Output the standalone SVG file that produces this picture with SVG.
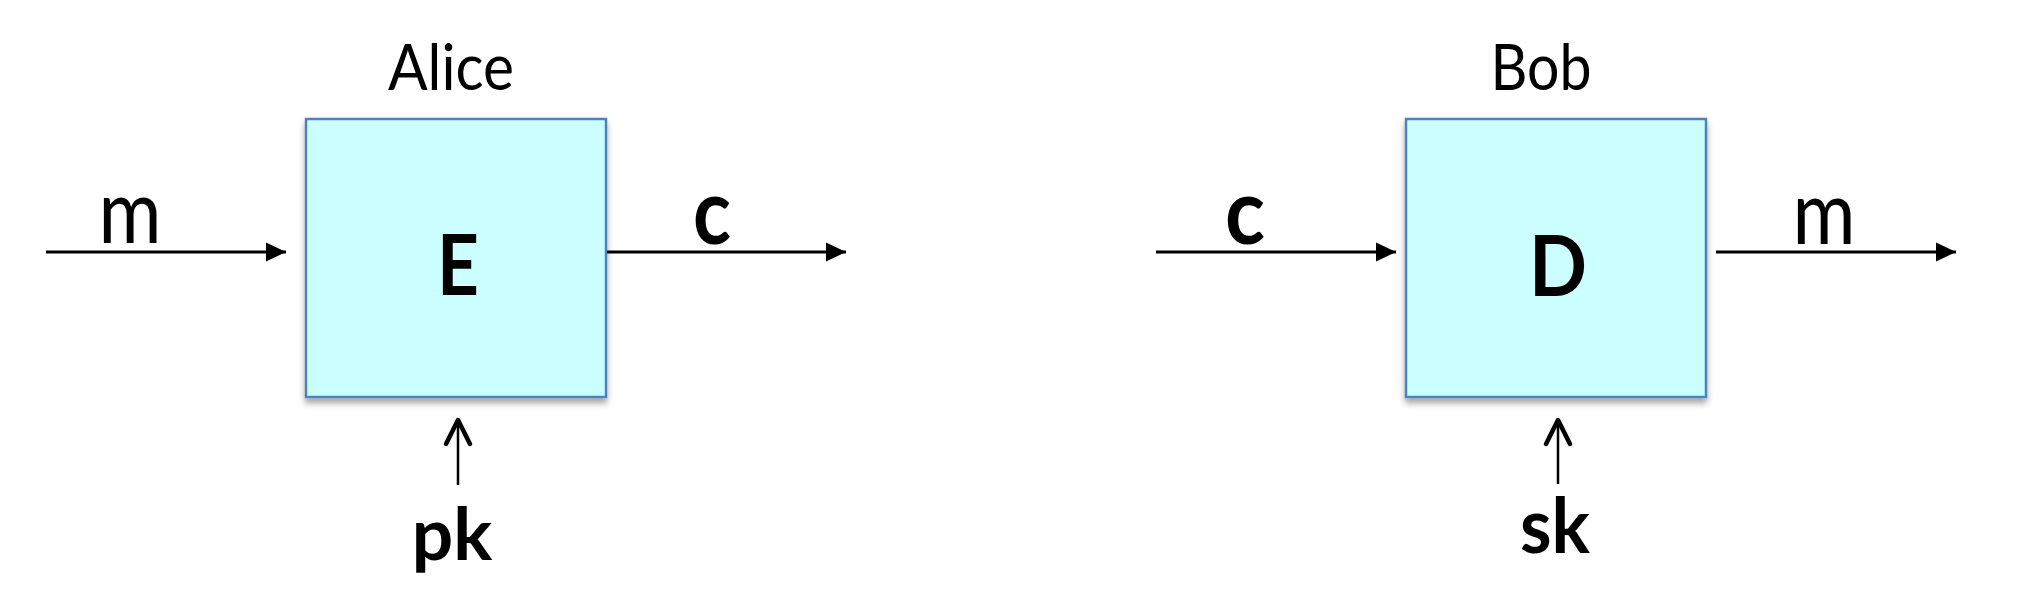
<svg xmlns="http://www.w3.org/2000/svg" width="2036" height="610" viewBox="0 0 2036 610">
<style>
.box{fill:#CCFFFF;stroke:#4F81BD;stroke-width:2.5}
.t{font-family:Lato,"Open Sans",sans-serif;fill:#000}
.b{font-weight:bold}
.h{stroke:#000;stroke-width:3;fill:none}
.v{stroke:#000;stroke-width:2.5;fill:none}
.vh{stroke:#000;stroke-width:4.5;fill:none;stroke-linecap:round;stroke-linejoin:round}
</style>
<defs>
<filter id="sh" x="-10%" y="-10%" width="120%" height="125%">
<feDropShadow dx="0" dy="5" stdDeviation="3" flood-color="#000" flood-opacity="0.35"/>
</filter>
<marker id="ah" markerUnits="userSpaceOnUse" markerWidth="22" markerHeight="22" refX="20" refY="10" orient="auto">
<path d="M0,0.5 L20,10 L0,19.5 Z" fill="#000"/>
</marker>
</defs>
<rect width="2036" height="610" fill="#fff"/>
<g id="alice">
<rect class="box" x="306" y="119" width="300" height="278" filter="url(#sh)"/>
<text class="t" x="451" y="90" font-size="63" text-anchor="middle" textLength="126" lengthAdjust="spacingAndGlyphs">Alice</text>
<text class="t b" x="458" y="295" font-size="84" text-anchor="middle" textLength="42" lengthAdjust="spacingAndGlyphs">E</text>
</g>
<g id="bob">
<rect class="box" x="1406" y="119" width="300" height="278" filter="url(#sh)"/>
<text class="t" x="1541" y="90" font-size="63" text-anchor="middle" textLength="101" lengthAdjust="spacingAndGlyphs">Bob</text>
<text class="t b" x="1558" y="296" font-size="84" text-anchor="middle" textLength="58" lengthAdjust="spacingAndGlyphs">D</text>
</g>
<g id="labels">
<text class="t" x="130" y="243" font-size="90" text-anchor="middle" textLength="63" lengthAdjust="spacingAndGlyphs">m</text>
<text class="t b" x="712" y="244" font-size="92" text-anchor="middle" textLength="38" lengthAdjust="spacingAndGlyphs">c</text>
<text class="t b" x="1245" y="244" font-size="92" text-anchor="middle" textLength="40" lengthAdjust="spacingAndGlyphs">c</text>
<text class="t" x="1824" y="244" font-size="90" text-anchor="middle" textLength="63" lengthAdjust="spacingAndGlyphs">m</text>
<text class="t b" x="452" y="560" font-size="73" text-anchor="middle">pk</text>
<text class="t b" x="1555" y="553" font-size="76" text-anchor="middle" textLength="70" lengthAdjust="spacingAndGlyphs">sk</text>
</g>
<g id="connectors">
<line class="h" x1="46" y1="252" x2="286" y2="252" marker-end="url(#ah)"/>
<line class="h" x1="607" y1="252" x2="846" y2="252" marker-end="url(#ah)"/>
<line class="h" x1="1156" y1="252" x2="1396" y2="252" marker-end="url(#ah)"/>
<line class="h" x1="1716" y1="252" x2="1956" y2="252" marker-end="url(#ah)"/>
<line class="v" x1="458" y1="485" x2="458" y2="420"/>
<path class="vh" d="M446,444 L458,420 L470,444"/>
<line class="v" x1="1558" y1="484" x2="1558" y2="420"/>
<path class="vh" d="M1546,444 L1558,420 L1570,444"/>
</g>
</svg>
